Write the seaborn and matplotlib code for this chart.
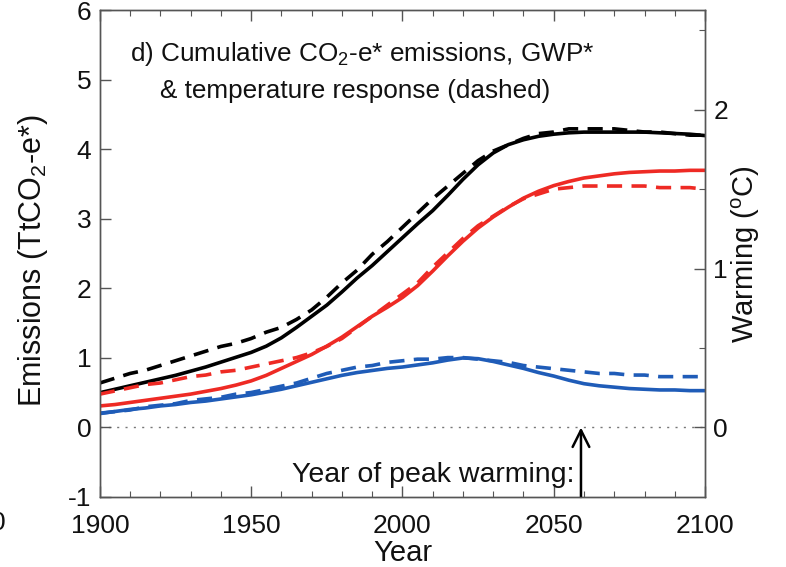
import numpy as np
import pandas as pd
import matplotlib
matplotlib.use("Agg")
import matplotlib.pyplot as plt
import seaborn as sns

# ---- data ----
years = list(range(1900, 2101, 5))

# cumulative CO2-e* emissions (TtCO2-e*), solid lines
emis_black = [0.50, 0.55, 0.60, 0.65, 0.70, 0.75, 0.81, 0.87, 0.94, 1.01,
              1.08, 1.17, 1.29, 1.44, 1.60, 1.76, 1.95, 2.15, 2.33, 2.53,
              2.73, 2.93, 3.12, 3.34, 3.57, 3.78, 3.95, 4.07, 4.14, 4.19,
              4.22, 4.24, 4.25, 4.25, 4.25, 4.25, 4.25, 4.24, 4.23, 4.22, 4.20]
emis_red = [0.31, 0.33, 0.36, 0.39, 0.42, 0.45, 0.48, 0.52, 0.56, 0.61,
            0.67, 0.75, 0.85, 0.95, 1.05, 1.17, 1.30, 1.45, 1.60, 1.73,
            1.87, 2.04, 2.25, 2.47, 2.68, 2.87, 3.03, 3.17, 3.30, 3.40,
            3.48, 3.54, 3.59, 3.62, 3.65, 3.67, 3.68, 3.69, 3.69, 3.70, 3.70]
emis_blue = [0.20, 0.23, 0.26, 0.28, 0.31, 0.33, 0.36, 0.38, 0.41, 0.44,
             0.47, 0.51, 0.55, 0.60, 0.65, 0.70, 0.75, 0.79, 0.82, 0.85,
             0.87, 0.90, 0.93, 0.97, 1.00, 0.99, 0.95, 0.90, 0.85, 0.79,
             0.74, 0.68, 0.63, 0.60, 0.58, 0.56, 0.55, 0.54, 0.54, 0.53, 0.53]

# temperature response (degC), dashed lines
warm_black = [0.28, 0.31, 0.34, 0.36, 0.39, 0.42, 0.45, 0.48, 0.51, 0.53,
              0.56, 0.60, 0.63, 0.68, 0.74, 0.82, 0.91, 0.99, 1.09, 1.17,
              1.26, 1.35, 1.44, 1.52, 1.60, 1.68, 1.74, 1.78, 1.82, 1.85,
              1.86, 1.88, 1.88, 1.88, 1.88, 1.87, 1.86, 1.86, 1.85, 1.84, 1.84]
warm_red = [0.21, 0.23, 0.25, 0.27, 0.28, 0.30, 0.32, 0.33, 0.35, 0.36,
            0.38, 0.40, 0.42, 0.44, 0.47, 0.51, 0.56, 0.63, 0.70, 0.77,
            0.84, 0.91, 1.01, 1.10, 1.19, 1.27, 1.33, 1.39, 1.44, 1.47,
            1.50, 1.51, 1.52, 1.52, 1.52, 1.52, 1.52, 1.51, 1.51, 1.51, 1.50]
warm_blue = [0.09, 0.10, 0.11, 0.13, 0.14, 0.15, 0.17, 0.18, 0.19, 0.21,
             0.22, 0.24, 0.26, 0.28, 0.31, 0.34, 0.36, 0.38, 0.39, 0.41,
             0.42, 0.43, 0.43, 0.44, 0.44, 0.43, 0.42, 0.41, 0.39, 0.38,
             0.37, 0.36, 0.35, 0.34, 0.34, 0.33, 0.33, 0.32, 0.32, 0.32, 0.32]

peak_year = 2059

x_ticks = [1900, 1950, 2000, 2050, 2100]
y_ticks = [-1, 0, 1, 2, 3, 4, 5, 6]
w_ticks = [0, 1, 2]

# ---- style ----
sns.set_theme(style="white")
plt.rcParams['font.family'] = ['Liberation Sans', 'DejaVu Sans']
plt.rcParams['mathtext.fontset'] = 'custom'
plt.rcParams['mathtext.rm'] = 'Liberation Sans'
plt.rcParams['mathtext.it'] = 'Liberation Sans'

BLACK = "#000000"
RED = "#ee2a24"
BLUE = "#1f5cb8"
SPINE = "#555555"
TXT = "#111111"

fig = plt.figure(figsize=(7.86, 5.67), dpi=100)
ax = fig.add_axes([0.127, 0.1235, 0.77, 0.858])
ax2 = ax.twinx()

ratio = 16.0 / 7.0  # emission units per degC
ax.set_xlim(1900, 2100)
ax.set_ylim(-1, 6)
ax2.set_ylim(-1 / ratio, 6 / ratio)

lw = 2.6
dash = (0, (4.2, 2.6))

for y, c in [(emis_black, BLACK), (emis_red, RED), (emis_blue, BLUE)]:
    sns.lineplot(x=years, y=y, ax=ax, color=c, lw=lw)
for y, c in [(warm_black, BLACK), (warm_red, RED), (warm_blue, BLUE)]:
    sns.lineplot(x=years, y=y, ax=ax2, color=c, lw=lw, linestyle=dash)

ax.axhline(0, color="#777777", lw=1.0, ls=(0, (1.5, 4.5)), zorder=0)

# ticks
ax.set_xticks(x_ticks)
ax.set_xticks(np.arange(1900, 2101, 10), minor=True)
ax.set_yticks(y_ticks)
ax.set_yticklabels([str(v) for v in y_ticks])
ax.tick_params(axis='both', which='major', direction='in', length=8, width=1,
               color=SPINE, labelsize=19, labelcolor=TXT, pad=6)
ax.tick_params(axis='x', which='major', top=True, bottom=True, pad=12)
ax.tick_params(axis='x', which='minor', direction='in', length=4, width=0.8,
               color=SPINE, top=True, bottom=True)
ax.tick_params(axis='y', which='major', left=True, right=False)
ax.tick_params(axis='y', which='minor', left=False, right=False)

ax2.set_yticks(w_ticks)
ax2.set_yticks([0.5, 1.5, 2.5], minor=True)
ax2.tick_params(axis='y', which='major', direction='in', length=8, width=1,
                color=SPINE, labelsize=19, labelcolor=TXT, pad=6)
ax2.tick_params(axis='y', which='minor', direction='in', length=4, width=0.8,
                color=SPINE)

for a in (ax, ax2):
    for s in a.spines.values():
        s.set_color(SPINE)
        s.set_linewidth(1.0)
        s.set_visible(True)

ax.set_xlabel("Year", fontsize=21, labelpad=1, color=TXT)
ax.set_ylabel("Emissions (TtCO$_2$-e*)", fontsize=22, color=TXT)
ax.yaxis.set_label_coords(-0.082, 0.485)
ax2.set_ylabel("Warming ($^\\mathrm{o}$C)", fontsize=21, labelpad=1, color=TXT)

# title text inside panel
ax.text(1910, 5.38, "d) Cumulative CO$_2$-e* emissions, GWP*", fontsize=18.8,
        color=TXT, va='center', ha='left')
ax.text(1920, 4.84, "& temperature response (dashed)", fontsize=18.8,
        color=TXT, va='center', ha='left')

# peak warming annotation
ax.text(peak_year - 2.0, -0.68, "Year of peak warming:", fontsize=20.5,
        color=TXT, ha='right', va='center')
ax.annotate("", xy=(peak_year, 0.0), xytext=(peak_year, -1.0),
            arrowprops=dict(arrowstyle="->", color='black', lw=1.8,
                            mutation_scale=30, shrinkA=0, shrinkB=0))

# clipped label from neighbouring panel
fig.text(-0.012, 0.078, "0", fontsize=19, color=TXT, ha='left', va='center')

fig.savefig("out.png", dpi=100)
